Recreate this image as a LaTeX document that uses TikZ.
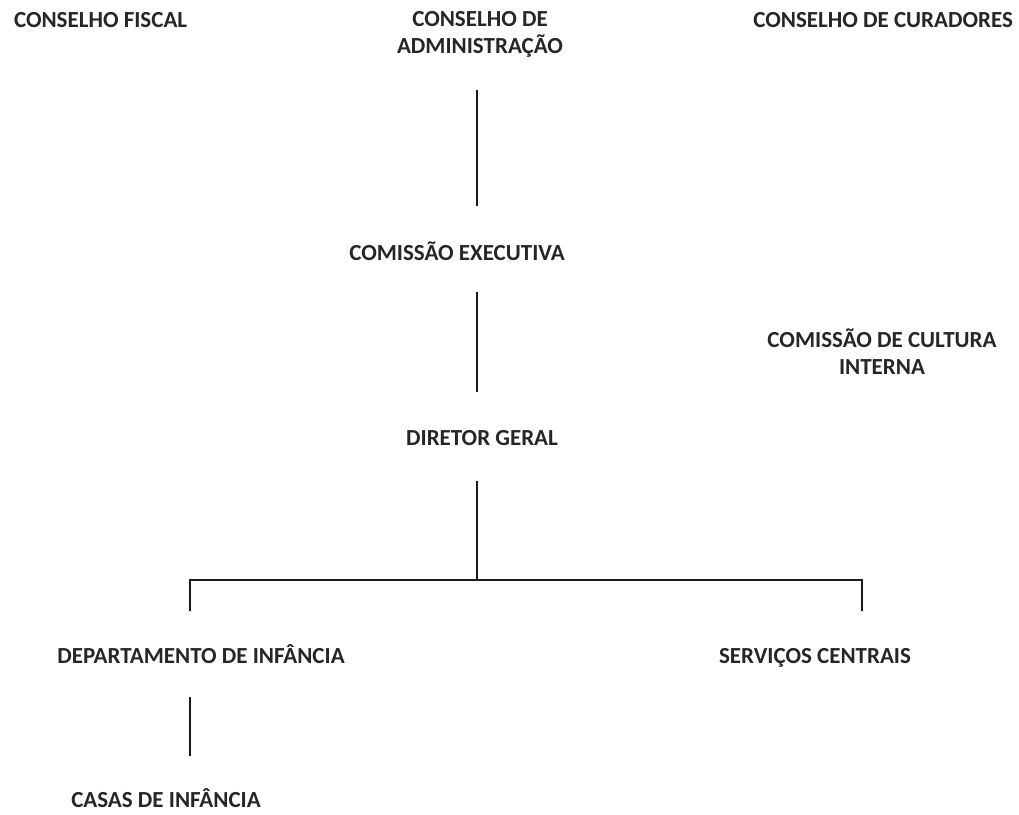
\documentclass[tikz,border=0pt]{standalone}
\usepackage{fontspec}
\setmainfont{Carlito}
\begin{document}
\begin{tikzpicture}[x=1pt,y=-1pt,
  lbl/.style={inner sep=0pt,outer sep=0pt,font=\bfseries\fontsize{23}{26.5}\selectfont,text depth=0pt,text=black!85},
  one/.style={lbl,text height=15pt},
  two/.style={lbl,align=center},
  conn/.style={draw=black!90,line width=1.4pt}]
\useasboundingbox (0,0) rectangle (1019,814);
\coordinate (tr) at (477,0);
\coordinate (xl) at (190,0);
\coordinate (xr) at (862,0);
\coordinate (bus) at (477,580);
\node[one,anchor=base west] (cf) at (14,27) {CONSELHO FISCAL};
\node[two,anchor=base] (ca) at (480,53) {CONSELHO DE\\ADMINISTRAÇÃO};
\node[one,anchor=base east] (cc) at (1013,27) {CONSELHO DE CURADORES};
\node[one,anchor=base] (ce) at (457,260) {COMISSÃO EXECUTIVA};
\node[two,anchor=base] (cci) at (882,374) {COMISSÃO DE CULTURA\\INTERNA};
\node[one,anchor=base] (dg) at (482,445) {DIRETOR GERAL};
\node[one,anchor=base] (di) at (201,663.5) {DEPARTAMENTO DE INFÂNCIA};
\node[one,anchor=base] (sc) at (815,663.5) {SERVIÇOS CENTRAIS};
\node[one,anchor=base] (ci) at (166,807) {CASAS DE INFÂNCIA};
\draw[conn,shorten <=37pt,shorten >=39pt] (ca.south -| tr) -- (ce.north -| tr);
\draw[conn,shorten <=32pt,shorten >=38pt] (ce.south -| tr) -- (dg.north -| tr);
\draw[conn,shorten <=36pt] (dg.south -| tr) -- (bus);
\draw[conn,shorten >=37.5pt] (bus) -| (di.north -| xl);
\draw[conn,shorten >=37.5pt] (bus) -| (sc.north -| xr);
\draw[conn,shorten <=33.5pt,shorten >=36pt] (di.south -| xl) -- (ci.north -| xl);
\end{tikzpicture}
\end{document}
